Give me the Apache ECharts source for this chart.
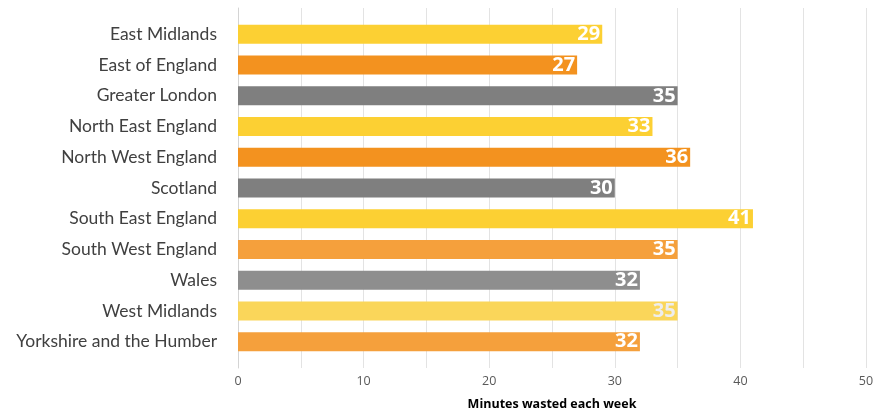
<!DOCTYPE html>
<html>
<head>
<meta charset="utf-8">
<script src="https://cdn.jsdelivr.net/npm/echarts@6/dist/echarts.min.js"></script>
<style>
  html, body { margin: 0; padding: 0; background: #fff; }
  #chart { width: 875px; height: 409px; }
</style>
</head>
<body>
<div id="chart"></div>
<script>
// Minutes wasted each week, by region
const regions = [
  'East Midlands', 'East of England', 'Greater London', 'North East England',
  'North West England', 'Scotland', 'South East England', 'South West England',
  'Wales', 'West Midlands', 'Yorkshire and the Humber'
];
const minutes = [29, 27, 35, 33, 36, 30, 41, 35, 32, 35, 32];
const barColors = [
  '#FCD033', '#F3921F', '#7F7F7F', '#FCD033', '#F3921F', '#7F7F7F',
  '#FCD033', '#F5A03C', '#8E8E8E', '#FAD65A', '#F5A03C'
];
const labelColors = [
  '#fff', '#fff', '#fff', '#fff', '#fff', '#fff',
  '#fff', '#fff', '#fff', '#EDEDED', '#fff'
];
const axisTitle = 'Minutes wasted each week';
const xMin = 0, xMax = 50, xStep = 5;

const chart = echarts.init(document.getElementById('chart'), null, { renderer: 'canvas' });

chart.setOption({
  animation: false,
  grid: [
    // frame grid: gridlines, left axis line and tick labels
    { left: 238, right: 9, top: 8, bottom: 41, outerBoundsMode: 'none', containLabel: false },
    // bar grid
    { left: 238, right: 9, top: 19, bottom: 52, outerBoundsMode: 'none', containLabel: false }
  ],
  xAxis: [
    {
      gridIndex: 0, type: 'value', min: xMin, max: xMax, interval: xStep,
      axisLine: { show: false },
      axisTick: { show: false },
      splitLine: { show: true, lineStyle: { color: '#E3E3E3', width: 1 } },
      axisLabel: {
        margin: 7, color: '#595959', fontSize: 12.5, fontFamily: 'Open Sans',
        formatter: v => (v % 10 === 0 ? String(v) : '')
      },
      name: axisTitle, nameLocation: 'middle', nameGap: 30,
      nameTextStyle: { color: '#000', fontSize: 12.5, fontWeight: 'bold', fontFamily: 'Open Sans' }
    },
    {
      gridIndex: 1, type: 'value', min: xMin, max: xMax, show: false
    }
  ],
  yAxis: [
    {
      gridIndex: 0, type: 'category', data: [''],
      axisLine: { show: true, lineStyle: { color: '#D4D4D4', width: 1 } },
      axisTick: { show: false }, axisLabel: { show: false }, splitLine: { show: false }
    },
    {
      gridIndex: 1, type: 'category', data: regions, inverse: true,
      axisLine: { show: false }, axisTick: { show: false }, splitLine: { show: false },
      axisLabel: { color: '#404040', fontSize: 17.5, fontFamily: 'Lato', margin: 21 }
    }
  ],
  series: [{
    type: 'bar',
    xAxisIndex: 1, yAxisIndex: 1,
    barWidth: 19,
    data: minutes.map((v, i) => ({
      value: v,
      itemStyle: { color: barColors[i] },
      label: { color: labelColors[i] }
    })),
    label: {
      show: true, position: 'insideRight', distance: 2,
      fontSize: 20, fontWeight: 'bold', fontFamily: 'Open Sans'
    }
  }]
});
</script>
</body>
</html>
